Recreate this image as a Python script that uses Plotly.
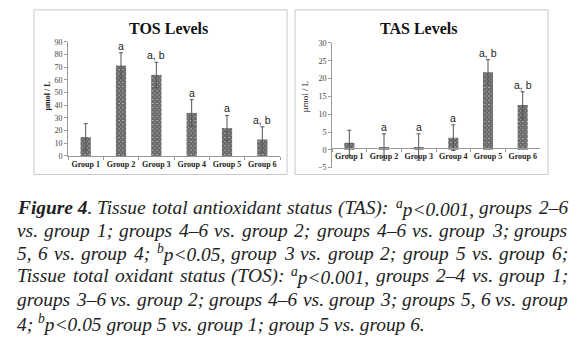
import plotly.graph_objects as go

groups = ["Group 1", "Group 2", "Group 3", "Group 4", "Group 5", "Group 6"]
tos_values = [15, 71.5, 64, 34, 22, 13]
tos_err = [10.5, 10, 10, 10.5, 10, 10]
tos_labels = ["", "a", "a, b", "a", "a", "a, b"]
tas_values = [2, 0.8, 0.8, 3.4, 21.8, 12.6]
tas_err = [3.5, 3.7, 3.7, 3.6, 3.5, 3.7]
tas_labels = ["", "a", "a", "a", "a, b", "a, b"]
tos_ticks = [0, 10, 20, 30, 40, 50, 60, 70, 80, 90]
tas_ticks = [-5, 0, 5, 10, 15, 20, 25, 30]

# caption lines; each line is a list of words, words are lists of (kind, text) runs
# kind: "i" italic, "bi" bold italic, "s" superscript italic
caption_lines = [
    [[("bi", "Figure 4"), ("i", ".")], [("i", "Tissue")], [("i", "total")], [("i", "antioxidant")],
     [("i", "status")], [("i", "(TAS):")], [("s", "a"), ("i", "p<0.001,")], [("i", "groups")], [("i", "2–6")]],
    [[("i", w)] for w in "vs. group 1; groups 4–6 vs. group 2; groups 4–6 vs. group 3; groups".split()],
    [[("i", "5,")], [("i", "6")], [("i", "vs.")], [("i", "group")], [("i", "4;")], [("s", "b"), ("i", "p<0.05,")]]
    + [[("i", w)] for w in "group 3 vs. group 2; group 5 vs. group 6;".split()],
    [[("i", w)] for w in "Tissue total oxidant status (TOS):".split()] + [[("s", "a"), ("i", "p<0.001,")]]
    + [[("i", w)] for w in "groups 2–4 vs. group 1;".split()],
    [[("i", w)] for w in "groups 3–6 vs. group 2; groups 4–6 vs. group 3; groups 5, 6 vs. group".split()],
    [[("i", "4;")], [("s", "b"), ("i", "p<0.05")]]
    + [[("i", w)] for w in "group 5 vs. group 1; group 5 vs. group 6.".split()],
]
caption_justify = [True, True, True, True, True, False]

W, H = 580, 348
def px(x): return x / W
def py(y): return 1 - y / H

serif = "Liberation Serif"
pattern = dict(shape="x", fgcolor="#000", bgcolor="#d0d0d0", size=3, solidity=0.9)
err_style = dict(type="data", thickness=1, width=2, color="#555")

fig = go.Figure()
fig.add_trace(go.Bar(x=groups, y=tos_values, width=0.29, xaxis="x", yaxis="y",
                     marker=dict(color="#000", pattern=pattern, line=dict(width=0)),
                     error_y=dict(array=tos_err, **err_style), showlegend=False))
fig.add_trace(go.Bar(x=groups, y=tas_values, width=0.29, xaxis="x2", yaxis="y2",
                     marker=dict(color="#000", pattern=pattern, line=dict(width=0)),
                     error_y=dict(array=tas_err, **err_style), showlegend=False))

axis_common = dict(showline=True, linecolor="#999", linewidth=1, showgrid=False, zeroline=False)
tickfont_y = dict(family=serif, size=8, color="#444")
tickfont_x = dict(family=serif, size=8, color="#222", weight="bold")

fig.update_layout(
    width=W, height=H, margin=dict(l=0, r=0, t=0, b=0),
    paper_bgcolor="white", plot_bgcolor="white", bargap=0.7,
    xaxis=dict(domain=[px(68), px(280)], anchor="y", ticks="outside", tickson="boundaries",
               ticklen=3, tickcolor="#999", tickfont=tickfont_x, tickangle=0, **axis_common),
    yaxis=dict(domain=[py(156), py(39)], range=[0, 90], tickvals=tos_ticks, ticks="outside",
               ticklen=3, tickcolor="#999", tickfont=tickfont_y, **axis_common),
    xaxis2=dict(domain=[px(332), px(540)], anchor="free", position=py(148), ticks="outside",
                tickson="boundaries", ticklen=3, tickcolor="#999", tickfont=tickfont_x, tickangle=0,
                **axis_common),
    yaxis2=dict(domain=[py(168), py(40)], range=[-5, 30], tickvals=tas_ticks, anchor="x2", ticks="outside",
                ticklen=3, tickcolor="#999", tickfont=tickfont_y, **axis_common),
)

shapes = []
for x0, x1 in [(34, 287), (295, 548)]:
    shapes.append(dict(type="rect", xref="paper", yref="paper", x0=px(x0), x1=px(x1),
                       y0=py(175), y1=py(6), line=dict(color="#c8c8c8", width=1)))
fig.update_layout(shapes=shapes)

ann = []
ann.append(dict(text="<b>TOS Levels</b>", x=px(168), y=py(25), xref="paper", yref="paper", xanchor="center",
                yanchor="middle", showarrow=False, font=dict(family=serif, size=16, color="#111")))
ann.append(dict(text="<b>TAS Levels</b>", x=px(418), y=py(25), xref="paper", yref="paper", xanchor="center",
                yanchor="middle", showarrow=False, font=dict(family=serif, size=16, color="#111")))
ann.append(dict(text="<b>µmol / L</b>", x=px(48), y=py(95), xref="paper", yref="paper", xanchor="center",
                yanchor="middle", textangle=-90, showarrow=False, font=dict(family=serif, size=8, color="#222")))
ann.append(dict(text="µmol / L", x=px(305), y=py(95), xref="paper", yref="paper", xanchor="center",
                yanchor="middle", textangle=-90, showarrow=False, font=dict(family=serif, size=9, color="#222")))
for g, v, e, t in zip(groups, tos_values, tos_err, tos_labels):
    if t:
        ann.append(dict(text=t, x=g, y=v + e, xref="x", yref="y", yanchor="bottom", yshift=-1,
                        showarrow=False, font=dict(family="Liberation Sans", size=10.5, color="#222")))
for g, v, e, t in zip(groups, tas_values, tas_err, tas_labels):
    if t:
        ann.append(dict(text=t, x=g, y=v + e, xref="x2", yref="y2", yanchor="bottom", yshift=-1,
                        showarrow=False, font=dict(family="Liberation Sans", size=10.5, color="#222")))

# --- justified caption: word widths from Times italic metrics (Liberation Serif is metric-compatible)
IT = {' ': 250, 'a': 500, 'b': 500, 'c': 444, 'd': 500, 'e': 444, 'f': 278, 'g': 500, 'h': 500, 'i': 278,
      'j': 278, 'k': 444, 'l': 278, 'm': 722, 'n': 500, 'o': 500, 'p': 500, 'q': 500, 'r': 389, 's': 389,
      't': 278, 'u': 500, 'v': 444, 'w': 667, 'x': 444, 'y': 444, 'z': 389, '.': 250, ',': 250, ';': 333,
      ':': 333, '(': 333, ')': 333, '<': 675, '–': 500, 'T': 556, 'A': 611, 'S': 500, 'O': 722, 'F': 611}
BI = {'F': 667, 'i': 278, 'g': 500, 'u': 556, 'r': 389, 'e': 444, ' ': 250, '4': 500}
FS = 19.4
LEFT, RIGHT = 15, 566
line_y = [209, 232, 256, 279, 303, 327]

def cw(ch, tbl):
    if ch.isdigit():
        return 500
    return tbl.get(ch, 500)

def word_width(word):
    w = 0
    for kind, txt in word:
        if kind == "bi":
            w += sum(cw(c, BI) for c in txt) * FS / 1000
        elif kind == "s":
            w += sum(cw(c, IT) for c in txt) * FS * 0.7 / 1000
        else:
            w += sum(cw(c, IT) for c in txt) * FS / 1000
    return w

def word_html(word):
    out = ""
    for kind, txt in word:
        t = txt.replace("<", "&lt;")
        if kind == "bi":
            out += "<b>" + t + "</b>"
        elif kind == "s":
            out += "<sup>" + t + "</sup>"
        else:
            out += t
    return "<i>" + out + "</i>"

cap_font = dict(family=serif, size=FS, color="#222")
for words, yy, just in zip(caption_lines, line_y, caption_justify):
    if not just:
        ann.append(dict(text=" ".join(word_html(w) for w in words), x=px(LEFT), y=py(yy), xref="paper",
                        yref="paper", xanchor="left", yanchor="middle", showarrow=False, font=cap_font))
        continue
    widths = [word_width(w) for w in words]
    gap = (RIGHT - LEFT - sum(widths)) / (len(words) - 1)
    xpos = LEFT
    for w, wd in zip(words, widths):
        ann.append(dict(text=word_html(w), x=px(xpos), y=py(yy), xref="paper", yref="paper",
                        xanchor="left", yanchor="middle", showarrow=False, font=cap_font))
        xpos += wd + gap

fig.update_layout(annotations=ann)
fig.write_html("out.html")
